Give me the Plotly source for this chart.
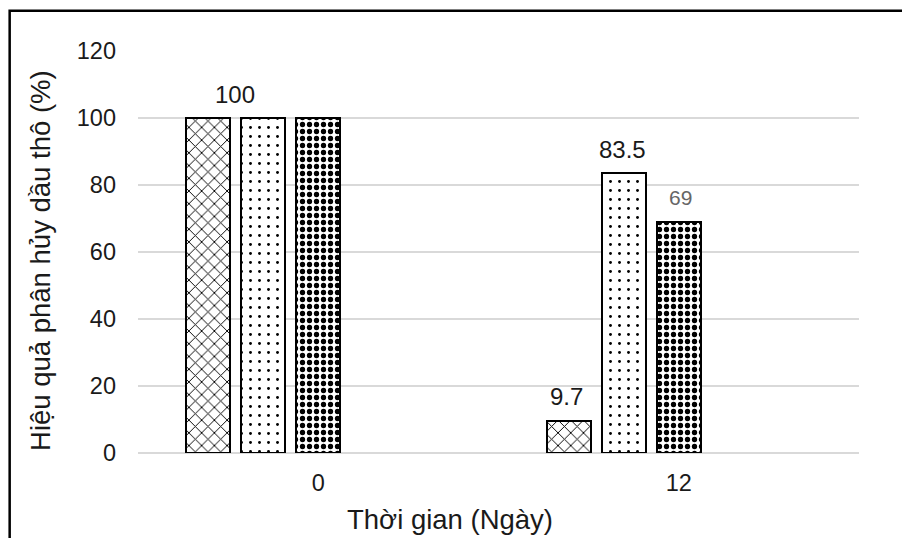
import plotly.graph_objects as go

# ---- data ----
categories = ["0", "12"]
series_names = ["Series 1", "Series 2", "Series 3"]
series1 = [100, 9.7]
series2 = [100, 83.5]
series3 = [100, 69]
y_ticks = [0, 20, 40, 60, 80, 100, 120]

# data labels shown in the reference: (series index, category index, text)
label_series = [0, 0, 1, 2]
label_cats = [0, 1, 1, 1]
label_texts = ["100", "9.7", "83.5", "69"]

x_title = "Thời gian (Ngày)"
y_title = "Hiệu quả phân hủy dầu thô (%)"

# ---- styling ----
FONT = "Liberation Sans, Arial, sans-serif"
bar_w = 0.122
centers = [-0.305, -0.152, 0.0]
patterns = [
    dict(shape="x", size=9, solidity=0.2, fgcolor="black", bgcolor="white", fillmode="replace"),
    dict(shape=".", size=9, solidity=0.08, fgcolor="black", bgcolor="white", fillmode="replace"),
    dict(shape=".", size=7, solidity=0.45, fgcolor="black", bgcolor="white", fillmode="replace"),
]
label_colors = ["#1a1a1a", "#1a1a1a", "#1a1a1a", "#666666"]
label_sizes = [24, 24, 24, 21]
label_xextra = [27, -2, -1, 2]

fig = go.Figure()
all_series = [series1, series2, series3]
for i, vals in enumerate(all_series):
    fig.add_trace(go.Bar(
        x=categories, y=vals, name=series_names[i],
        width=bar_w, offset=centers[i] - bar_w / 2,
        marker=dict(color="white", line=dict(color="black", width=2),
                    pattern=patterns[i]),
        showlegend=False,
    ))

PX_PER_CAT = 361
for k in range(len(label_texts)):
    s = label_series[k]
    c = label_cats[k]
    fig.add_annotation(
        x=c, y=all_series[s][c], xref="x", yref="y",
        text=label_texts[k], showarrow=False,
        xshift=centers[s] * PX_PER_CAT + label_xextra[k], yshift=24,
        font=dict(family=FONT, size=label_sizes[k], color=label_colors[k]),
    )

# axis titles as annotations (positioned like the reference)
fig.add_annotation(text=x_title, xref="paper", yref="paper", x=0.433, y=-0.165,
                   showarrow=False, yanchor="middle",
                   font=dict(family=FONT, size=27.5, color="#1a1a1a"))
fig.add_annotation(text=y_title, xref="paper", yref="paper", x=-0.136, y=0.48,
                   showarrow=False, textangle=-90, xanchor="center", yanchor="middle",
                   font=dict(family=FONT, size=27.5, color="#1a1a1a"))

# outer chart border (extends past right/bottom edge as in the reference)
fig.add_shape(type="rect", xref="paper", yref="paper",
              x0=-0.178, x1=1.08, y0=-0.35, y1=1.1,
              line=dict(color="black", width=2.5), fillcolor="rgba(0,0,0,0)",
              layer="above")

fig.update_layout(
    width=902, height=538,
    margin=dict(l=138, r=43, t=51, b=85),
    paper_bgcolor="white", plot_bgcolor="white",
    bargap=0, bargroupgap=0,
    font=dict(family=FONT, size=20, color="#1a1a1a"),
    xaxis=dict(type="category", range=[-0.5, 1.5], showgrid=False,
               showline=False, ticks="", ticklabelstandoff=13,
               tickfont=dict(size=23.5)),
    yaxis=dict(range=[0, 120], tickvals=y_ticks, showgrid=True,
               gridcolor="#d9d9d9", gridwidth=2, zeroline=True,
               zerolinecolor="#d9d9d9", zerolinewidth=2, showline=False,
               ticks="", ticklabelstandoff=21, tickfont=dict(size=23.5)),
)

fig.write_html("out.html")
